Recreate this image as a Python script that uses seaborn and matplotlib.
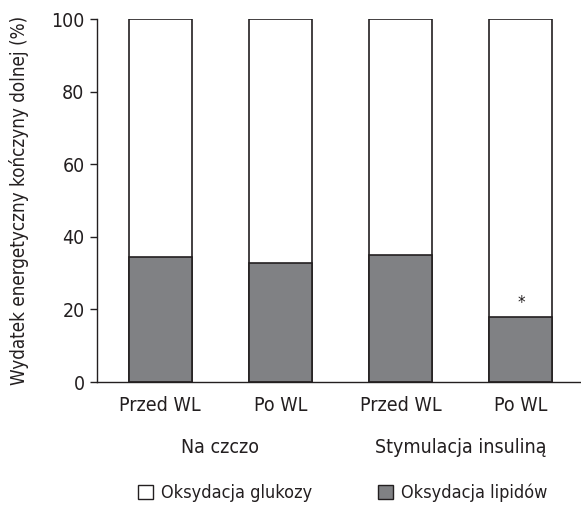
import seaborn as sns
import matplotlib.pyplot as plt
import pandas as pd
from matplotlib.patches import Patch

# data
bar_labels = ['Przed WL', 'Po WL', 'Przed WL', 'Po WL']
groups = ['Na czczo', 'Stymulacja insuliną']
lipid_ox = [34.4, 32.8, 35.0, 17.9]
total = [100, 100, 100, 100]

df = pd.DataFrame({
    'pos': ['a', 'b', 'c', 'd'],
    'lipid': lipid_ox,
    'total': total,
})

sns.set_style("ticks")
plt.rcParams['font.family'] = ['DejaVu Sans']
plt.rcParams['font.stretch'] = 'condensed'
edge = '#231f20'
gray = '#808184'
plt.rcParams['text.color'] = edge
plt.rcParams['xtick.color'] = edge
plt.rcParams['ytick.color'] = edge
plt.rcParams['axes.labelcolor'] = edge

fig = plt.figure(figsize=(5.81, 5.07), dpi=100)
ax = fig.add_axes([0.167, 0.2465, 0.833, 0.716])

# glucose part (white) drawn as full bar, lipid part on top of it
sns.barplot(data=df, x='pos', y='total', color='white', edgecolor=edge,
            linewidth=1.2, width=0.525, ax=ax)
sns.barplot(data=df, x='pos', y='lipid', color=gray, edgecolor=edge,
            linewidth=1.2, width=0.525, ax=ax, saturation=1)

ax.set_xlim(-0.525, 3.5)
ax.set_ylim(0, 100)
ax.set_yticks([0, 20, 40, 60, 80, 100])
ax.set_xticks(range(4))
ax.set_xticklabels(bar_labels, fontsize=14)
ax.tick_params(axis='y', labelsize=14, length=5, width=1, pad=4)
ax.tick_params(axis='x', length=0, pad=10)
ax.set_xlabel('')
ax.set_ylabel('Wydatek energetyczny kończyny dolnej (%)', fontsize=13.5, labelpad=16)
for s in ['top', 'right']:
    ax.spines[s].set_visible(False)
for s in ['left', 'bottom']:
    ax.spines[s].set_color(edge)
    ax.spines[s].set_linewidth(1)

# significance marker
ax.text(3, lipid_ox[3] + 4, '*', ha='center', va='center', fontsize=12)

# group labels under the bar labels
for i, g in enumerate(groups):
    ax.text(2 * i + 0.5, -18, g, ha='center', va='center', fontsize=14,
            clip_on=False)

handles = [Patch(facecolor='white', edgecolor=edge, linewidth=1),
           Patch(facecolor=gray, edgecolor=edge, linewidth=1)]
fig.legend(handles, ['Oksydacja glukozy', 'Oksydacja lipidów'], ncol=2,
           loc='center', bbox_to_anchor=(0.59, 0.028), frameon=False,
           fontsize=13, handlelength=0.85, handleheight=0.85, handletextpad=0.45,
           columnspacing=3.6)

fig.savefig('out.png', dpi=100)
